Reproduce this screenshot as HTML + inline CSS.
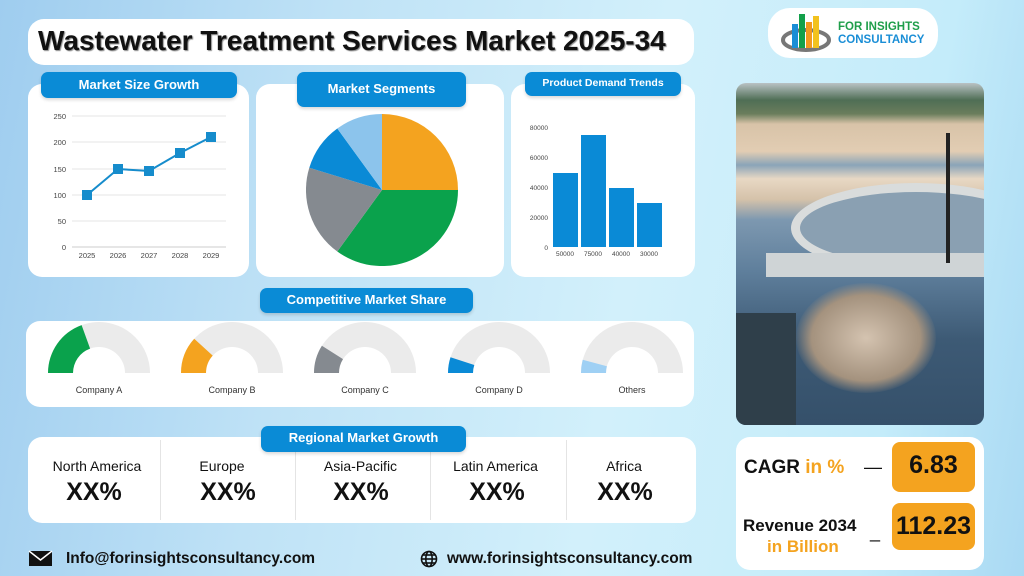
<!DOCTYPE html>
<html><head><meta charset="utf-8"><style>
*{margin:0;padding:0;box-sizing:border-box}
body{width:1024px;height:576px;overflow:hidden;position:relative;font-family:"Liberation Sans","DejaVu Sans",sans-serif;
background:linear-gradient(100deg,#9fcdef 0%,#bfe2f6 30%,#d2f0fb 60%,#c4ecfa 85%,#a9d9f3 100%)}
.a{position:absolute}
.card{position:absolute;background:#fff;border-radius:14px}
.pill{position:absolute;background:#0a8bd6;color:#fff;border-radius:7px;font-weight:bold;text-align:center;font-size:13px;box-shadow:0 2px 3px rgba(0,0,0,.15)}
</style></head><body>
<div class="card" style="left:28px;top:19px;width:666px;height:46px;border-radius:16px"></div>
<div class="a" style="left:38px;top:25px;font-size:28px;font-weight:bold;color:#111;text-shadow:1px 1px 1px #888;white-space:nowrap">Wastewater Treatment Services Market 2025-34</div>

<div class="card" style="left:768px;top:8px;width:170px;height:50px;border-radius:22px"></div>
<svg class="a" style="left:780px;top:10px" width="52" height="46">
<ellipse cx="26" cy="30" rx="23" ry="10" fill="none" stroke="#777" stroke-width="4"/>
<rect x="12" y="14" width="6" height="24" fill="#1a8ed6"/><rect x="19" y="4" width="6" height="34" fill="#13a04a"/>
<rect x="26" y="12" width="6" height="26" fill="#f29a1e"/><rect x="33" y="6" width="6" height="32" fill="#f2c21e"/></svg>
<div class="a" style="left:838px;top:21px;font-size:11.5px;font-weight:bold;color:#1f9e4a;line-height:13px">FOR INSIGHTS<br><span style="color:#1a8ed6">CONSULTANCY</span></div>

<!-- Panel 1 -->
<div class="card" style="left:28px;top:84px;width:221px;height:193px"></div>
<div class="pill" style="left:41px;top:72px;width:196px;height:26px;line-height:26px">Market Size Growth</div>
<svg class="a" style="left:28px;top:84px" width="221" height="193">
<g stroke="#e6e6e6" stroke-width="1">
<line x1="44" y1="32" x2="198" y2="32"/><line x1="44" y1="58" x2="198" y2="58"/><line x1="44" y1="85" x2="198" y2="85"/>
<line x1="44" y1="111" x2="198" y2="111"/><line x1="44" y1="137" x2="198" y2="137"/></g>
<line x1="44" y1="163" x2="198" y2="163" stroke="#ccc"/>
<g font-size="7.5" fill="#444" text-anchor="end" font-family="Liberation Sans">
<text x="38" y="35">250</text><text x="38" y="61">200</text><text x="38" y="88">150</text><text x="38" y="114">100</text><text x="38" y="140">50</text><text x="38" y="166">0</text></g>
<g font-size="7.5" fill="#444" text-anchor="middle" font-family="Liberation Sans">
<text x="59" y="174">2025</text><text x="90" y="174">2026</text><text x="121" y="174">2027</text><text x="152" y="174">2028</text><text x="183" y="174">2029</text></g>
<polyline points="59,111 90,85 121,87 152,69 183,53" fill="none" stroke="#168ccc" stroke-width="2"/>
<g fill="#168ccc"><rect x="54" y="106" width="10" height="10"/><rect x="85" y="80" width="10" height="10"/><rect x="116" y="82" width="10" height="10"/><rect x="147" y="64" width="10" height="10"/><rect x="178" y="48" width="10" height="10"/></g>
</svg>

<!-- Panel 2 -->
<div class="card" style="left:256px;top:84px;width:248px;height:193px"></div>
<div class="pill" style="left:297px;top:72px;width:169px;height:35px;line-height:33px">Market Segments</div>
<svg class="a" style="left:306px;top:114px" width="152" height="152">
<g transform="translate(76,76)">
<path d="M0,0 L0,-76 A76,76 0 0 1 76,0 Z" fill="#f4a31f"/>
<path d="M0,0 L76,0 A76,76 0 0 1 -44.7,61.5 Z" fill="#0aa24c"/>
<path d="M0,0 L-44.7,61.5 A76,76 0 0 1 -72.7,-22.2 Z" fill="#858a90"/>
<path d="M0,0 L-72.7,-22.2 A76,76 0 0 1 -44.7,-61.5 Z" fill="#0a8ad6"/>
<path d="M0,0 L-44.7,-61.5 A76,76 0 0 1 0,-76 Z" fill="#8cc4ec"/>
</g></svg>

<!-- Panel 3 -->
<div class="card" style="left:511px;top:84px;width:184px;height:193px"></div>
<div class="pill" style="left:525px;top:72px;width:156px;height:24px;line-height:22px;font-size:10.5px">Product Demand Trends</div>
<svg class="a" style="left:511px;top:84px" width="184" height="193">
<g font-size="6.5" fill="#444" text-anchor="end" font-family="Liberation Sans">
<text x="37" y="46">80000</text><text x="37" y="76">60000</text><text x="37" y="106">40000</text><text x="37" y="136">20000</text><text x="37" y="166">0</text></g>
<g fill="#0a8ad6"><rect x="42" y="89" width="25" height="74"/><rect x="70" y="51" width="25" height="112"/><rect x="98" y="104" width="25" height="59"/><rect x="126" y="119" width="25" height="44"/></g>
<g font-size="6.5" fill="#444" text-anchor="middle" font-family="Liberation Sans">
<text x="54" y="172">50000</text><text x="82" y="172">75000</text><text x="110" y="172">40000</text><text x="138" y="172">30000</text></g>
</svg>

<!-- Photo -->
<div class="a" style="left:736px;top:83px;width:248px;height:342px;border-radius:10px;overflow:hidden;background:linear-gradient(180deg,#b9c2c4 0%,#4f6e55 5%,#6a7d5c 9%,#d8c3a8 12%,#e2cdb3 20%,#8aa4b8 24%,#e8d8c4 28%,#d5c2aa 34%,#7d98b0 40%,#5f7f9c 55%,#3d5a75 75%,#35506a 100%)">
<div class="a" style="left:55px;top:100px;width:250px;height:90px;border-radius:50%;border:9px solid #d9dcdc;background:#8aa0b2"></div>
<div class="a" style="left:30px;top:170px;width:220px;height:24px;background:#cfd4d6"></div>
<div class="a" style="left:60px;top:200px;width:140px;height:110px;border-radius:50%;background:radial-gradient(#d4c3b0,#a4927e 55%,rgba(80,100,120,0) 72%)"></div>
<div class="a" style="left:0;top:230px;width:60px;height:112px;background:#2f3f4a"></div>
<div class="a" style="left:210px;top:50px;width:4px;height:130px;background:#222"></div>
</div>

<!-- Competitive -->
<div class="card" style="left:26px;top:321px;width:668px;height:86px"></div>
<div class="pill" style="left:260px;top:288px;width:213px;height:25px;line-height:23px">Competitive Market Share</div>
<svg class="a" style="left:0;top:310px" width="700" height="100">
<defs><path id="g" d="M-51,0 A51,51 0 0 1 51,0 L26,0 A26,26 0 0 0 -26,0 Z"/></defs>
<g transform="translate(99,63)"><use href="#g" fill="#ebebeb"/><path d="M-51,0 A51,51 0 0 1 -17.4,-47.9 L-8.9,-24.4 A26,26 0 0 0 -26,0 Z" fill="#0aa24c"/></g>
<g transform="translate(232,63)"><use href="#g" fill="#ebebeb"/><path d="M-51,0 A51,51 0 0 1 -37.8,-34.2 L-19.3,-17.4 A26,26 0 0 0 -26,0 Z" fill="#f4a31f"/></g>
<g transform="translate(365,63)"><use href="#g" fill="#ebebeb"/><path d="M-51,0 A51,51 0 0 1 -43.1,-27.3 L-22,-13.9 A26,26 0 0 0 -26,0 Z" fill="#858a90"/></g>
<g transform="translate(499,63)"><use href="#g" fill="#ebebeb"/><path d="M-51,0 A51,51 0 0 1 -48.5,-15.8 L-24.7,-8 A26,26 0 0 0 -26,0 Z" fill="#0a8ad6"/></g>
<g transform="translate(632,63)"><use href="#g" fill="#ebebeb"/><path d="M-51,0 A51,51 0 0 1 -49.3,-13.2 L-25.1,-6.7 A26,26 0 0 0 -26,0 Z" fill="#9fd0f4"/></g>
<g font-size="9" fill="#333" text-anchor="middle" font-family="Liberation Sans">
<text x="99" y="83">Company A</text><text x="232" y="83">Company B</text><text x="365" y="83">Company C</text><text x="499" y="83">Company D</text><text x="632" y="83">Others</text></g>
</svg>

<!-- Regional -->
<div class="card" style="left:28px;top:437px;width:668px;height:86px"></div>
<div class="a" style="left:160px;top:440px;width:1px;height:80px;background:#e4e4e4"></div>
<div class="a" style="left:295px;top:440px;width:1px;height:80px;background:#e4e4e4"></div>
<div class="a" style="left:430px;top:440px;width:1px;height:80px;background:#e4e4e4"></div>
<div class="a" style="left:566px;top:440px;width:1px;height:80px;background:#e4e4e4"></div>
<div class="pill" style="left:261px;top:426px;width:205px;height:26px;line-height:24px">Regional Market Growth</div>
<div class="a" style="left:28px;top:458px;width:668px;font-size:14px;color:#111">
<span class="a" style="left:0;width:138px;text-align:center">North America</span>
<span class="a" style="left:130px;width:128px;text-align:center">Europe</span>
<span class="a" style="left:265px;width:135px;text-align:center">Asia-Pacific</span>
<span class="a" style="left:400px;width:135px;text-align:center">Latin America</span>
<span class="a" style="left:530px;width:132px;text-align:center">Africa</span></div>
<div class="a" style="left:28px;top:478px;width:668px;font-size:25px;color:#111;font-weight:bold">
<span class="a" style="left:0;width:132px;text-align:center">XX%</span>
<span class="a" style="left:134px;width:132px;text-align:center">XX%</span>
<span class="a" style="left:267px;width:132px;text-align:center">XX%</span>
<span class="a" style="left:403px;width:132px;text-align:center">XX%</span>
<span class="a" style="left:531px;width:132px;text-align:center">XX%</span></div>

<!-- CAGR -->
<div class="card" style="left:736px;top:437px;width:248px;height:133px"></div>
<div class="a" style="left:892px;top:442px;width:83px;height:50px;background:#f4a31f;border-radius:8px;font-size:25px;font-weight:bold;text-align:center;line-height:46px;color:#111">6.83</div>
<div class="a" style="left:892px;top:503px;width:83px;height:47px;background:#f4a31f;border-radius:8px;font-size:25px;font-weight:bold;text-align:center;line-height:47px;color:#111">112.23</div>
<div class="a" style="left:744px;top:457px;font-size:19px;font-weight:bold;color:#111">CAGR <span style="color:#f4a31f">in %</span></div>
<div class="a" style="left:864px;top:457px;font-size:18px;color:#111">—</div>
<div class="a" style="left:743px;top:516px;font-size:17px;font-weight:bold;color:#111">Revenue 2034</div>
<div class="a" style="left:767px;top:537px;font-size:17px;font-weight:bold;color:#f4a31f">in Billion</div>
<div class="a" style="left:870px;top:522px;font-size:18px;color:#111">_</div>

<!-- Footer -->
<svg class="a" style="left:28px;top:550px" width="25" height="17"><rect x="1" y="1" width="23" height="15" fill="#111"/><polyline points="1,1 12.5,10 24,1" fill="none" stroke="#fff" stroke-width="1.5"/></svg>
<div class="a" style="left:66px;top:550px;font-size:15.5px;font-weight:bold;color:#111;white-space:nowrap">Info@forinsightsconsultancy.com</div>
<svg class="a" style="left:420px;top:550px" width="18" height="18"><g fill="none" stroke="#111" stroke-width="1.6"><circle cx="9" cy="9" r="7.5"/><ellipse cx="9" cy="9" rx="3.2" ry="7.5"/><line x1="1.5" y1="9" x2="16.5" y2="9"/><line x1="3" y1="5" x2="15" y2="5"/><line x1="3" y1="13" x2="15" y2="13"/></g></svg>
<div class="a" style="left:447px;top:550px;font-size:15.5px;font-weight:bold;color:#111;white-space:nowrap">www.forinsightsconsultancy.com</div>
</body></html>
